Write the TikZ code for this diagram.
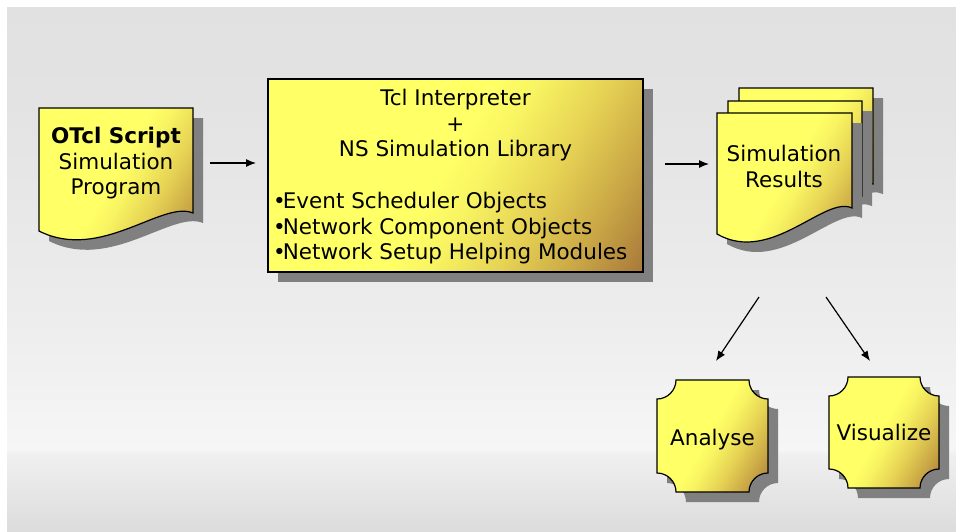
\documentclass[tikz,border=0pt]{standalone}
\usepackage{fontspec}
\setmainfont{DejaVu Sans}
\usetikzlibrary{arrows.meta}

\definecolor{bgA}{HTML}{DCDCDC}
\definecolor{bgB}{HTML}{F0F0F0}
\definecolor{bgC}{HTML}{F6F6F6}
\definecolor{bgD}{HTML}{EDEDED}
\definecolor{bgE}{HTML}{E3E3E3}
\definecolor{bgF}{HTML}{E1E1E1}
\definecolor{gy1}{HTML}{FFFF66}
\definecolor{gy2}{HTML}{F8F462}
\definecolor{gy3}{HTML}{E6D254}
\definecolor{gy4}{HTML}{CAA846}
\definecolor{gy5}{HTML}{A27038}
\definecolor{shadowgray}{HTML}{808080}

% soft grey panel behind everything
\pgfdeclareverticalshading{panelshade}{100bp}{%
  color(0bp)=(bgA); color(25bp)=(bgA); color(32.4bp)=(bgB);
  color(32.8bp)=(bgC); color(45bp)=(bgD); color(66bp)=(bgE);
  color(75bp)=(bgF); color(100bp)=(bgF)}
% yellow-to-brown fill of the boxes
\pgfdeclarehorizontalshading{goldfill}{100bp}{%
  color(0bp)=(gy1); color(48bp)=(gy1); color(54bp)=(gy2);
  color(64bp)=(gy3); color(74bp)=(gy4); color(86bp)=(gy5);
  color(100bp)=(gy5)}

% document page with wavy bottom: x1 y1 x2 y-right y-left
\newcommand\docpath[5]{(#1,#2) -- (#3,#2) -- (#3,#4)
  .. controls ({#3-0.2*(#3-#1)},{#4-13}) and ({#1+0.4*(#3-#1)},{#5+31}) .. (#1,#5) -- cycle}
% box with concave corners: x1 y1 x2 y2 r
\newcommand\notchpath[5]{({#1+#5},#2) -- ({#3-#5},#2)
  .. controls ({#3-#5},{#2+0.55*#5}) and ({#3-0.55*#5},{#2+#5}) .. (#3,{#2+#5})
  -- (#3,{#4-#5})
  .. controls ({#3-0.55*#5},{#4-#5}) and ({#3-#5},{#4-0.55*#5}) .. ({#3-#5},#4)
  -- ({#1+#5},#4)
  .. controls ({#1+#5},{#4-0.55*#5}) and ({#1+0.55*#5},{#4-#5}) .. (#1,{#4-#5})
  -- (#1,{#2+#5})
  .. controls ({#1+0.55*#5},{#2+#5}) and ({#1+#5},{#2+0.55*#5}) .. cycle}
% tight bullet for the list lines
\newcommand\tightbullet{•\kern-3pt}

\begin{document}
\begin{tikzpicture}[x=1pt,y=-1pt,
  shadowfill/.style={fill=shadowgray, draw=none, shift={(10,10)}},
  goldbox/.style={shading=goldfill, shading angle=-30, draw=black, line width=1.2pt},
  arr/.style={-{Latex[length=10pt,width=8pt]}, line width=1.2pt},
  txt/.style={font=\fontsize{21.5}{25.5}\selectfont, text=black, inner sep=0pt, align=center}]

\useasboundingbox (0,0) rectangle (956,531);
\fill[white] (0,0) rectangle (956,531);
\shade[shading=panelshade] (7,7) rectangle (956,531);

% OTcl script page
\fill[shadowfill] \docpath{39}{108}{193}{213}{231};
\path[goldbox] \docpath{39}{108}{193}{213}{231};
\node[txt, anchor=north] (otcl) at (116,127)
  {\textbf{OTcl Script}\\Simulation\\Program};

% simulator box
\fill[shadowfill] (268,79) rectangle (643,272);
\path[goldbox] (268,79) rectangle (643,272);
\node[txt, anchor=north] (core) at (455.5,89)
  {Tcl Interpreter\\+\\NS Simulation Library};
\node[txt, anchor=north west, align=left] (parts) at (273,192)
  {\tightbullet Event Scheduler Objects\\\tightbullet Network Component Objects\\\tightbullet Network Setup Helping Modules};

% stack of result pages
\fill[shadowfill] \docpath{739}{88}{873}{184}{210};
\path[goldbox] \docpath{739}{88}{873}{184}{210};
\fill[shadowfill] \docpath{728}{101}{862}{196}{222};
\path[goldbox] \docpath{728}{101}{862}{196}{222};
\fill[shadowfill] \docpath{717}{113}{852}{208}{234};
\path[goldbox] \docpath{717}{113}{852}{208}{234};
\node[txt, anchor=north] (results) at (784,145) {Simulation\\Results};

% analyse / visualize boxes
\fill[shadowfill] \notchpath{657}{380}{768}{492}{19};
\path[goldbox] \notchpath{657}{380}{768}{492}{19};
\node[txt, anchor=base] (analyse) at (712.5,445) {Analyse};
\fill[shadowfill] \notchpath{829}{377}{939}{488}{19};
\path[goldbox] \notchpath{829}{377}{939}{488}{19};
\node[txt, anchor=base] (visualize) at (884,440) {Visualize};

% connectors
\coordinate (a1s) at (210,163);
\coordinate (a1e) at (256,163);
\coordinate (a2s) at (665,164);
\coordinate (a2e) at (709,164);
\coordinate (a3s) at (759,297);
\coordinate (a3e) at (716,361);
\coordinate (a4s) at (826,297);
\coordinate (a4e) at (870,361);
\draw[arr] (a1s) -- (a1e);
\draw[arr] (a2s) -- (a2e);
\draw[arr] (a3s) -- (a3e);
\draw[arr] (a4s) -- (a4e);
\end{tikzpicture}
\end{document}
